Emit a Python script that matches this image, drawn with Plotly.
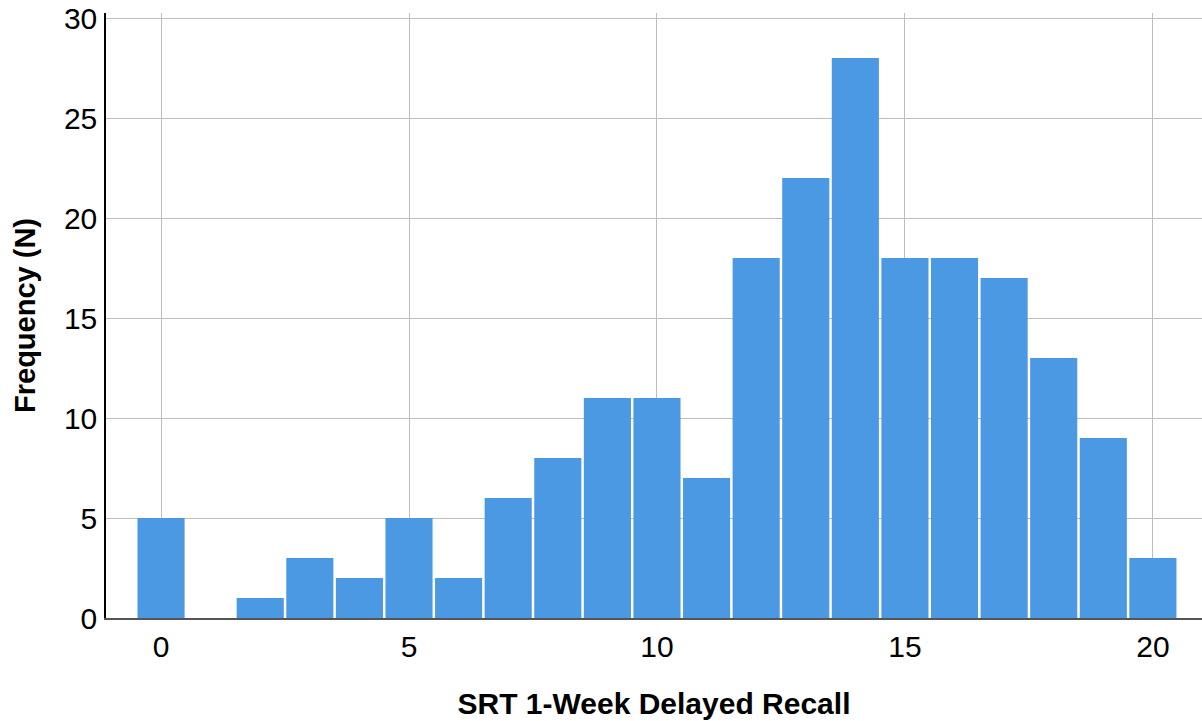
import plotly.graph_objects as go

scores = list(range(0, 21))
frequency = [5, 0, 1, 3, 2, 5, 2, 6, 8, 11, 11, 7, 18, 22, 28, 18, 18, 17, 13, 9, 3]
x_ticks = [0, 5, 10, 15, 20]
y_ticks = [0, 5, 10, 15, 20, 25, 30]

FONT = "Liberation Sans, Arial, sans-serif"

fig = go.Figure(
    go.Bar(
        x=scores,
        y=frequency,
        marker=dict(color="#4C99E3", line=dict(width=0)),
        width=0.95,
    )
)

fig.update_layout(
    width=1202,
    height=721,
    margin=dict(l=106, r=0, t=13, b=103),
    plot_bgcolor="white",
    paper_bgcolor="white",
    showlegend=False,
    font=dict(family=FONT, color="black", size=30),
)

fig.update_xaxes(
    range=[-1.11, 20.99],
    tickvals=x_ticks,
    ticktext=[str(v) for v in x_ticks],
    showgrid=True,
    gridcolor="#BDBDBD",
    gridwidth=1.3,
    zeroline=False,
    showline=True,
    linecolor="#555555",
    linewidth=1.5,
    ticks="",
    automargin=False,
    ticklabelstandoff=1,
    tickfont=dict(size=30, family=FONT),
    title=dict(text="<b>SRT 1-Week Delayed Recall</b>", font=dict(size=30, family=FONT), standoff=31),
)

fig.update_yaxes(
    range=[0, 30.25],
    tickvals=y_ticks,
    showgrid=True,
    gridcolor="#BDBDBD",
    gridwidth=1.3,
    zeroline=False,
    showline=True,
    linecolor="black",
    linewidth=1.5,
    ticks="",
    automargin=False,
    ticklabelstandoff=1,
    tickfont=dict(size=30, family=FONT),
    title=dict(text="<b>Frequency (N)</b>", font=dict(size=29, family=FONT), standoff=20),
)

fig.write_html(
    "out.html",
    config={"displayModeBar": False},
    post_script="document.body.style.margin='0';document.body.style.overflow='hidden';document.documentElement.style.overflow='hidden';",
)
